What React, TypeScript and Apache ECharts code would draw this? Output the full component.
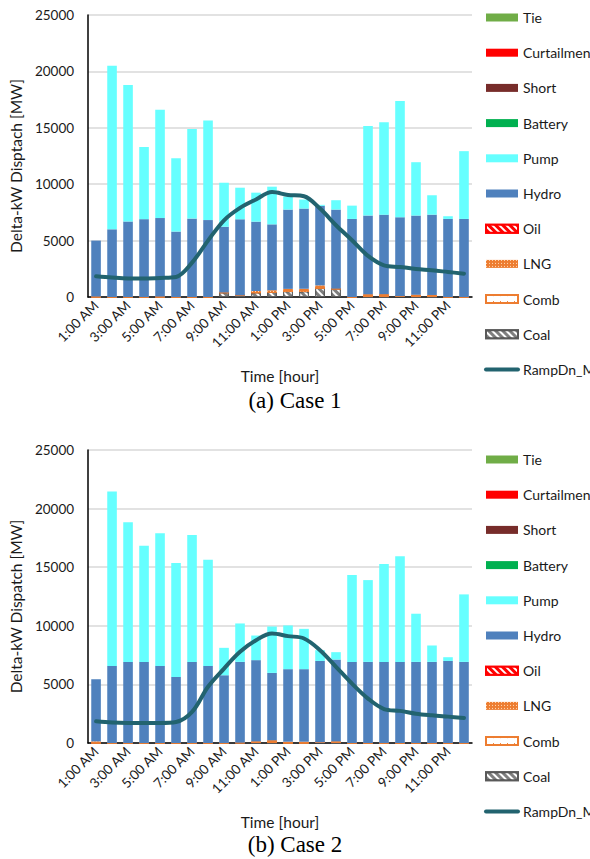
import React, { useEffect, useRef } from "react";
import * as echarts from "echarts";

const hours = [
  "1:00 AM", "2:00 AM", "3:00 AM", "4:00 AM", "5:00 AM", "6:00 AM", "7:00 AM", "8:00 AM",
  "9:00 AM", "10:00 AM", "11:00 AM", "12:00 PM", "1:00 PM", "2:00 PM", "3:00 PM", "4:00 PM",
  "5:00 PM", "6:00 PM", "7:00 PM", "8:00 PM", "9:00 PM", "10:00 PM", "11:00 PM", "12:00 AM",
];

// Case 1
const coal1 = [0, 0, 0, 0, 0, 0, 0, 0, 400, 150, 400, 450, 520, 500, 800, 740, 0, 0, 0, 80, 0, 0, 0, 0];
const comb1 = [0, 0, 0, 0, 0, 0, 0, 0, 0, 0, 0, 0, 0, 0, 0, 0, 0, 240, 250, 0, 200, 180, 0, 0];
const lng1 = [40, 0, 0, 0, 40, 0, 0, 0, 0, 0, 130, 150, 200, 230, 230, 0, 0, 0, 0, 0, 0, 0, 0, 0];
const oil1: number[] = [];
const hydro1 = [4960, 6000, 6700, 6900, 6960, 5800, 6950, 6820, 5830, 6740, 6150, 5840, 7030, 7110, 7050, 7010, 6920, 6980, 7050, 6990, 7020, 7120, 6920, 6920];
const pump1 = [0, 14500, 12100, 6400, 9600, 6500, 7950, 8830, 3900, 2800, 2570, 3340, 1150, 800, 90, 830, 1180, 7930, 8200, 10300, 4730, 1720, 240, 6010];
const ramp1 = [1830, 1720, 1650, 1650, 1690, 1780, 3050, 5000, 6800, 7900, 8650, 9300, 9050, 8930, 7840, 6360, 5030, 3640, 2810, 2660, 2490, 2370, 2220, 2070];

// Case 2
const coal2 = [0, 0, 0, 0, 0, 0, 0, 0, 0, 30, 0, 0, 0, 0, 60, 0, 0, 0, 0, 0, 0, 0, 0, 0];
const comb2 = [0, 0, 0, 0, 0, 0, 0, 0, 0, 0, 140, 230, 0, 0, 0, 140, 0, 0, 0, 0, 0, 0, 0, 0];
const lng2 = [140, 0, 0, 0, 0, 0, 0, 0, 0, 0, 0, 0, 110, 110, 0, 0, 0, 0, 0, 0, 0, 0, 0, 0];
const oil2: number[] = [];
const hydro2 = [5300, 6580, 6920, 6920, 6580, 5640, 6920, 6580, 5780, 6890, 6930, 5750, 6190, 6190, 6940, 6980, 6920, 6920, 6920, 6920, 6920, 6920, 7000, 6920];
const pump2 = [0, 14870, 11910, 9920, 11310, 9720, 10830, 9060, 2340, 3280, 2100, 3960, 3730, 3440, 920, 630, 7410, 6980, 8350, 9010, 4110, 1400, 320, 5760];
const ramp2 = [1850, 1740, 1710, 1710, 1710, 1790, 2650, 4800, 6350, 7780, 8770, 9340, 9120, 8920, 7920, 6500, 5070, 3790, 2900, 2740, 2500, 2360, 2250, 2140];

const legendNames = ["Tie", "Curtailment", "Short", "Battery", "Pump", "Hydro", "Oil", "LNG", "Comb", "Coal", "RampDn_MW"];
const yTitles = ["Delta-kW Disptach [MW]", "Delta-kW Dispatch [MW]"];
const captions = ["(a) Case 1", "(b) Case 2"];

const FONT = "Lato";
const TXT = "#1a1a1a";
const LINE_COLOR = "#22636F";

const styles: Record<string, any> = {
  Tie: { color: "#70AD47" },
  Curtailment: { color: "#FF0000" },
  Short: { color: "#772C2A" },
  Battery: { color: "#00B050" },
  Pump: { color: "#66FFFF" },
  Hydro: { color: "#4F81BD" },
  Oil: {
    color: "#FF0000",
    borderColor: "#FF0000",
    borderWidth: 1,
    decal: { symbol: "rect", color: "#ffffff", dashArrayX: [1, 0], dashArrayY: [2, 3], rotation: Math.PI / 4, symbolSize: 1 },
  },
  LNG: {
    color: "#ED7D31",
    decal: { symbol: "rect", color: "rgba(255,230,200,0.9)", dashArrayX: [[1, 2]], dashArrayY: [1, 2], symbolSize: 1, rotation: 0 },
  },
  Comb: {
    color: "#ffffff",
    borderColor: "#ED7D31",
    borderWidth: 1.5,
    decal: { symbol: "rect", color: "#ED7D31", dashArrayX: [[1, 6]], dashArrayY: [1, 5], symbolSize: 1, rotation: 0 },
  },
  Coal: {
    color: "#7F7F7F",
    borderColor: "#595959",
    borderWidth: 1,
    decal: { symbol: "rect", color: "#ffffff", dashArrayX: [1, 0], dashArrayY: [2, 3], rotation: Math.PI / 4, symbolSize: 1 },
  },
};

function buildCase(idx: number, d: Record<string, number[]>) {
  const order = ["Coal", "Comb", "LNG", "Oil", "Hydro", "Pump", "Battery", "Short", "Curtailment", "Tie"];
  const bars = order.map((name) => ({
    type: "bar",
    name,
    xAxisIndex: idx,
    yAxisIndex: idx,
    stack: "s" + idx,
    barCategoryGap: "40%",
    data: d[name] || [],
    itemStyle: styles[name],
  }));
  const line = {
    type: "line",
    name: "RampDn_MW",
    xAxisIndex: idx,
    yAxisIndex: idx,
    data: d.ramp,
    smooth: 0.35,
    symbol: "none",
    z: 5,
    lineStyle: { color: LINE_COLOR, width: 4, cap: "round" },
    itemStyle: { color: LINE_COLOR },
  };
  return [...bars, line];
}

export default function App() {
  const ref = useRef<HTMLDivElement>(null);
  useEffect(() => {
    const chart = echarts.init(ref.current!, null, { renderer: "svg" });
    const grids = [
      { left: 88, top: 15, width: 384, height: 282 },
      { left: 84, top: 450, width: 388, height: 293 },
    ];
    const legendTops = [5, 447];
    const capY = [401, 845];
    const option: any = {
      animation: false,
      backgroundColor: "#ffffff",
      textStyle: { fontFamily: FONT },
      grid: grids,
      xAxis: grids.map((_, i) => ({
        type: "category",
        gridIndex: i,
        data: hours,
        name: "Time [hour]",
        nameLocation: "middle",
        nameGap: 71,
        nameTextStyle: { fontSize: 15.5, color: TXT, fontFamily: FONT },
        axisLine: { lineStyle: { color: "#000000", width: 1.5 } },
        axisTick: { show: false },
        axisLabel: { interval: 1, rotate: 45, fontSize: 13.5, color: TXT, fontFamily: FONT, margin: 6 },
      })),
      yAxis: grids.map((_, i) => ({
        type: "value",
        gridIndex: i,
        min: 0,
        max: 25000,
        interval: 5000,
        name: yTitles[i],
        nameLocation: "middle",
        nameGap: 58,
        nameTextStyle: { fontSize: 15.5, color: TXT, fontFamily: FONT, padding: [0, 20, 0, 0] },
        axisLine: { show: true, lineStyle: { color: "#000000", width: 1.5 } },
        axisTick: { show: false },
        splitLine: { lineStyle: { color: "#D9D9D9", width: 1.5 } },
        axisLabel: {
          fontSize: 13.5,
          color: TXT,
          fontFamily: FONT,
          margin: 14,
          formatter: (v: number) => String(v),
        },
      })),
      legend: legendTops.map((t) => ({
        orient: "vertical",
        left: 479,
        top: t,
        itemWidth: 32,
        itemHeight: 8,
        itemGap: 20.2,
        selectedMode: false,
        textStyle: { fontSize: 14, lineHeight: 15, color: TXT, fontFamily: FONT },
        data: legendNames.map((n) =>
          n === "RampDn_MW"
            ? { name: n, itemStyle: { opacity: 0 }, lineStyle: { width: 4, cap: "round", color: LINE_COLOR } }
            : { name: n, icon: "rect" }
        ),
      })),
      graphic: captions.map((c, i) => ({
        type: "text",
        left: "center",
        top: capY[i] - 12,
        style: { text: c, fontSize: 23, fontFamily: "Liberation Serif", fill: "#000000" },
      })),
      series: [
        ...buildCase(0, { Coal: coal1, Comb: comb1, LNG: lng1, Oil: oil1, Hydro: hydro1, Pump: pump1, ramp: ramp1 }),
        ...buildCase(1, { Coal: coal2, Comb: comb2, LNG: lng2, Oil: oil2, Hydro: hydro2, Pump: pump2, ramp: ramp2 }),
      ],
    };
    chart.setOption(option);
    return () => chart.dispose();
  }, []);
  return (
    <div
      ref={ref}
      style={{ position: "absolute", left: 0, top: 0, width: 590, height: 859, background: "#fff" }}
    />
  );
}
